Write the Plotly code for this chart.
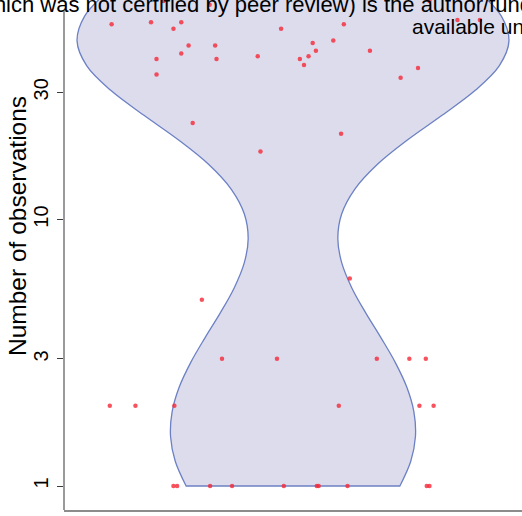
import numpy as np
import plotly.graph_objects as go

# Number of observations per sample (values above ~67 lie beyond the visible top edge)
counts = [1, 1, 1, 1, 1, 1, 1, 1, 1, 1,
          2, 2, 2, 2, 2, 2,
          3, 3, 3, 3, 3,
          5, 6, 18, 21, 23,
          34, 35, 37, 38, 40, 40, 40, 41, 41, 42, 43, 43, 45, 45, 46, 47,
          52, 52, 54, 54, 55, 55, 56, 56, 64, 66, 66,
          70, 78, 90, 110]
# horizontal jitter of each point (category units)
jitter = [-0.261, -0.253, -0.181, -0.133, -0.020, 0.052, 0.056, 0.119, 0.292, 0.298,
          -0.400, -0.344, -0.259, 0.100, 0.276, 0.307,
          -0.155, -0.035, 0.183, 0.254, 0.290,
          -0.199, 0.124, -0.071, 0.105, -0.219,
          0.235, -0.298, 0.273, 0.024, -0.167, -0.298, 0.015, -0.077, 0.034, -0.244, 0.050, 0.168,
          -0.228, -0.170, 0.043, 0.088,
          -0.261, -0.026, -0.396, 0.111, -0.244, -0.310, 0.408, 0.359, -0.182, -0.283, 0.298,
          0.10, -0.20, 0.30, -0.05]
tick_vals = [1, 3, 10, 30]
tick_text = ["1", "3", "10", "30"]

logc = np.log10(np.array(counts, dtype=float))

W, H = 522, 516
L, B = 64, 6
PW, PH = W - L, H - B

fig = go.Figure()
fig.add_trace(go.Violin(
    x=[0] * len(counts), y=logc,
    bandwidth=0.29, spanmode="hard", width=0.943, scalemode="width",
    fillcolor="rgb(220,220,237)", line=dict(color="rgb(108,128,196)", width=1.3),
    points=False, box_visible=False, meanline_visible=False,
    hoverinfo="skip", showlegend=False, opacity=1,
))
fig.add_trace(go.Scatter(
    x=jitter, y=logc, mode="markers",
    marker=dict(size=4.5, color="rgba(245,40,55,0.8)", line=dict(width=0)),
    hoverinfo="skip", showlegend=False,
))

def px_x(p):
    return (p - L) / PW

def px_y(p):
    return (PH - p) / PH

fig.add_shape(type="line", xref="paper", yref="paper",
              x0=0, x1=0, y0=0, y1=px_y(10),
              line=dict(color="rgb(120,120,120)", width=1.5))

fig.add_annotation(text="which was not certified by peer review) is the author/funder, who has granted bioRxiv a license",
                   xref="paper", yref="paper", x=px_x(-25), y=px_y(5),
                   xanchor="left", yanchor="middle", showarrow=False,
                   font=dict(family="Liberation Sans, Arial", size=22, color="black"))
fig.add_annotation(text="available under aCC-BY-NC-ND 4.0 International license.",
                   xref="paper", yref="paper", x=px_x(410), y=px_y(26.5),
                   xanchor="left", yanchor="middle", showarrow=False,
                   font=dict(family="Liberation Sans, Arial", size=21, color="black"))
fig.add_annotation(text="Number of observations", textangle=-90,
                   xref="paper", yref="paper", x=px_x(17), y=px_y(226),
                   xanchor="center", yanchor="middle", showarrow=False,
                   font=dict(family="Liberation Sans, Arial", size=24.5, color="black"))

ytop = (486 - 0) / 266.5
ybot = (486 - 510) / 266.5

fig.update_layout(
    width=W, height=H, margin=dict(l=L, r=0, t=0, b=B, pad=0),
    paper_bgcolor="white", plot_bgcolor="white",
    font=dict(family="Liberation Sans, Arial", color="black"),
    xaxis=dict(range=[-0.5, 0.5], showticklabels=False, ticks="", showgrid=False,
               zeroline=False, showline=True, linecolor="rgb(140,140,140)", linewidth=1.5),
    yaxis=dict(range=[ybot, ytop], tickmode="array",
               tickvals=list(np.log10(tick_vals)), ticktext=tick_text,
               tickangle=-90, ticks="outside", ticklen=6, tickwidth=1.3,
               tickcolor="rgb(60,60,60)", showgrid=False, zeroline=False, showline=False,
               ticklabelstandoff=1,
               tickfont=dict(size=20, color="black")),
)

fig.write_html("out.html", config={"displayModeBar": False},
               post_script="document.body.style.margin='0';")
